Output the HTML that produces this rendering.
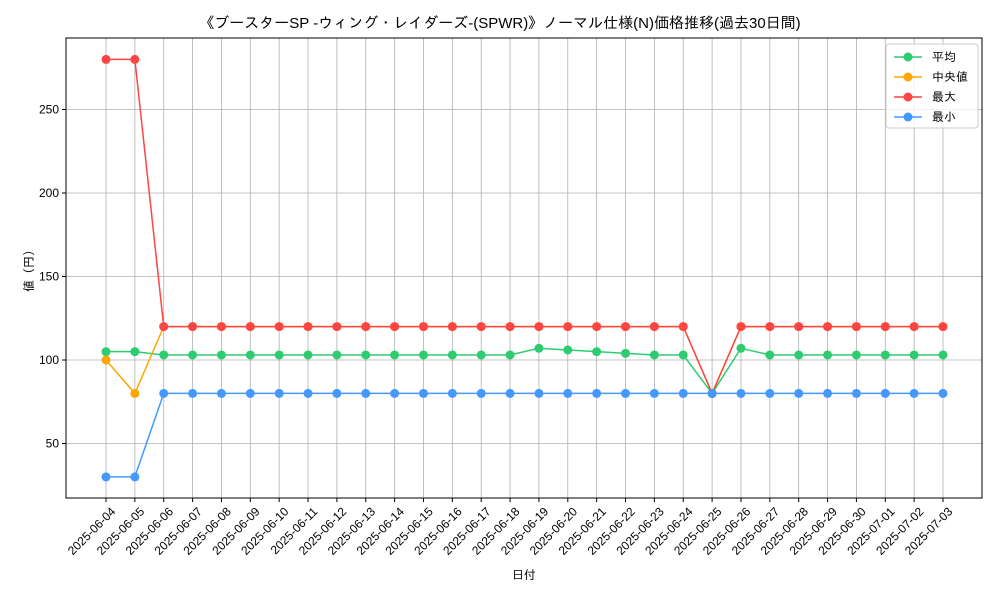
<!DOCTYPE html>
<html><head><meta charset="utf-8"><style>
body{margin:0;background:#fff;}
svg text{font-family:"Liberation Sans","IPAGothic","Noto Sans CJK JP",sans-serif;fill:#000;}
</style></head><body>
<svg id="chart" width="1000" height="600" xmlns="http://www.w3.org/2000/svg">
<rect width="1000" height="600" fill="#fff"/>
<text x="500" y="28" font-size="15" text-anchor="middle">《ブースターSP -ウィング・レイダーズ-(SPWR)》ノーマル仕様(N)価格推移(過去30日間)</text>
<g id="grid"></g>
<rect x="66" y="38" width="916" height="460" fill="none" stroke="#000" stroke-width="1"/>
<g id="series"></g>
<g id="xticks"></g>
<g id="yticks"></g>
<text x="524" y="579" font-size="12" text-anchor="middle">日付</text>
<text transform="translate(33,268) rotate(-90)" font-size="12" text-anchor="middle">値（円）</text>
<g id="legend"></g>
</svg>
<script>
const dates=["2025-06-04","2025-06-05","2025-06-06","2025-06-07","2025-06-08","2025-06-09","2025-06-10","2025-06-11","2025-06-12","2025-06-13","2025-06-14","2025-06-15","2025-06-16","2025-06-17","2025-06-18","2025-06-19","2025-06-20","2025-06-21","2025-06-22","2025-06-23","2025-06-24","2025-06-25","2025-06-26","2025-06-27","2025-06-28","2025-06-29","2025-06-30","2025-07-01","2025-07-02","2025-07-03"];
const avgValues=[105,105,103,103,103,103,103,103,103,103,103,103,103,103,103,107,106,105,104,103,103,80,107,103,103,103,103,103,103,103];
const medianValues=[100,80,120,120,120,120,120,120,120,120,120,120,120,120,120,120,120,120,120,120,120,80,120,120,120,120,120,120,120,120];
const maxValues=[280,280,120,120,120,120,120,120,120,120,120,120,120,120,120,120,120,120,120,120,120,80,120,120,120,120,120,120,120,120];
const minValues=[30,30,80,80,80,80,80,80,80,80,80,80,80,80,80,80,80,80,80,80,80,80,80,80,80,80,80,80,80,80];
const yTicks=[50,100,150,200,250];
const seriesNames=["平均","中央値","最大","最小"];
const NS="http://www.w3.org/2000/svg";
const X0=106,X1=943,Y100=360,PX_PER=1.67;
function xs(i){return X0+(X1-X0)*i/(dates.length-1);}
function ys(v){return Y100-(v-100)*PX_PER;}
function mk(tag,attrs,parent){const e=document.createElementNS(NS,tag);for(const k in attrs)e.setAttribute(k,attrs[k]);parent.appendChild(e);return e;}
const grid=document.getElementById('grid'),xt=document.getElementById('xticks'),yt=document.getElementById('yticks');
dates.forEach((d,i)=>{
  const x=xs(i);
  const g=mk('line',{x1:x,x2:x,y1:38,y2:498,stroke:'#b0b0b0','stroke-width':0.8},grid);
  
  
  const t=mk('line',{x1:x,x2:x,y1:498,y2:502,stroke:'#000'},xt);
  
  
  const l=mk('text',{transform:`translate(${x+4},${506}) rotate(-45)`,'font-size':12,'text-anchor':'end','dominant-baseline':'hanging'},xt);
  l.textContent=d;
  
  
});
yTicks.forEach(v=>{
  const y=ys(v);
  const g=mk('line',{x1:66,x2:982,y1:y,y2:y,stroke:'#b0b0b0','stroke-width':0.8},grid);
  
  
  const t=mk('line',{x1:62,x2:66,y1:y,y2:y,stroke:'#000'},yt);
  
  
  const l=mk('text',{x:59,y:y+4,'font-size':12,'text-anchor':'end'},yt);
  l.textContent=v;
  
  
});
const series=[[avgValues,'#2ecc71','avg'],[medianValues,'#ffa500','median'],[maxValues,'#ff4444','max'],[minValues,'#4499ff','min']];
const sg=document.getElementById('series');
series.forEach(([vals,c,n])=>{
  const g=mk('g',{},sg);
  
  
  const p=mk('polyline',{points:vals.map((v,i)=>xs(i)+','+ys(v)).join(' '),fill:'none',stroke:c,'stroke-width':1.5},g);
  
  
  vals.forEach((v,i)=>{
    const m=mk('circle',{cx:xs(i),cy:ys(v),r:4.5,fill:c},g);
    
    
  });
});
const lg=document.getElementById('legend');
const box=mk('rect',{x:886,y:44,width:92,height:84,rx:3,fill:'#fff','fill-opacity':0.8,stroke:'#ccc'},lg);


series.forEach(([v,c,n],k)=>{
  const y=57+k*20;
  const e=mk('g',{},lg);
  
  
  mk('line',{x1:894,x2:922,y1:y,y2:y,stroke:c,'stroke-width':1.5},e);
  mk('circle',{cx:908,cy:y,r:4.5,fill:c},e);
  const t=mk('text',{x:932,y:y+4,'font-size':12},e);
  t.textContent=(n==='median'?' ':'')+seriesNames[k];
});
</script>
</body></html>
